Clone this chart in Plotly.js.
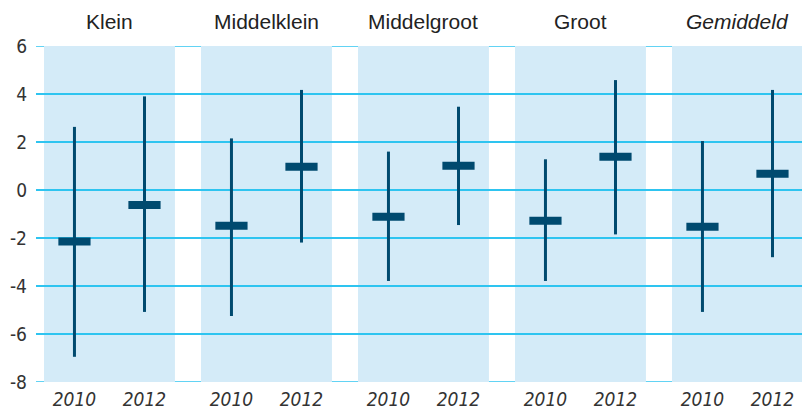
<!DOCTYPE html>
<html>
<head>
<meta charset="utf-8">
<script src="https://cdn.plot.ly/plotly-3.0.1.min.js"></script>
<style>html,body{margin:0;padding:0;background:#fff;}#chart{width:802px;height:414px;}</style>
</head>
<body>
<div id="chart"></div>
<script>
// Data
const groups = ["Klein", "Middelklein", "Middelgroot", "Groot", "Gemiddeld"];
const years = ["2010", "2012"];
const mid2010 = [-2.15, -1.49, -1.11, -1.28, -1.53];
const low2010 = [-6.95, -5.25, -3.79, -3.79, -5.08];
const high2010 = [2.63, 2.15, 1.60, 1.28, 2.04];
const mid2012 = [-0.63, 0.97, 1.01, 1.39, 0.68];
const low2012 = [-5.08, -2.19, -1.46, -1.85, -2.80];
const high2012 = [3.90, 4.17, 3.47, 4.58, 4.17];
const yTicks = [-8, -6, -4, -2, 0, 2, 4, 6];
const yTickLabels = ["-8", "-6", "-4", "-2", "0", "2", "4", "6"];

const OFF = 0.223;   // half distance between the two years in a group
const BAND = 0.417;  // half width of the shaded band
const DARK = "#004a6f";
const GRID = "#2ec4f0";

const mids = [mid2010, mid2012];
const lows = [low2010, low2012];
const highs = [high2010, high2012];

const xs = [], ys = [], eplus = [], eminus = [], tickvals = [], ticktext = [];
groups.forEach((g, gi) => {
  years.forEach((yr, yi) => {
    const x = gi + (yi === 0 ? -OFF : OFF);
    xs.push(x);
    ys.push(mids[yi][gi]);
    eplus.push(highs[yi][gi] - mids[yi][gi]);
    eminus.push(mids[yi][gi] - lows[yi][gi]);
    tickvals.push(x);
    ticktext.push(yr);
  });
});

const trace = {
  type: "scatter",
  mode: "markers",
  x: xs,
  y: ys,
  marker: {symbol: "line-ew", size: 23, color: DARK, line: {color: DARK, width: 8}},
  error_y: {type: "data", symmetric: false, array: eplus, arrayminus: eminus,
            color: DARK, thickness: 3, width: 0},
  hoverinfo: "none",
  cliponaxis: false
};

const shapes = groups.map((g, gi) => ({
  type: "rect", layer: "below", xref: "x", yref: "y",
  x0: gi - BAND, x1: gi + BAND, y0: -8, y1: 6,
  fillcolor: "#d4ebf8", line: {width: 0}
}));
// edge grid lines at the ends of the value axis
[yTicks[0], yTicks[yTicks.length - 1]].forEach(v => shapes.push({
  type: "line", layer: "between", xref: "paper", yref: "y",
  x0: 0, x1: 1, y0: v, y1: v, line: {color: GRID, width: 1.6}
}));

const annotations = groups.map((g, gi) => ({
  xref: "x", yref: "paper", x: gi, y: 1, yshift: 25, yanchor: "middle",
  text: g, showarrow: false,
  font: {family: "Liberation Sans, Arial, sans-serif", size: 21, color: "#222",
         style: gi === groups.length - 1 ? "italic" : "normal"}
}));

const layout = {
  width: 802, height: 414,
  margin: {l: 36, r: 0, t: 46, b: 32, pad: 0},
  paper_bgcolor: "#fff", plot_bgcolor: "rgba(0,0,0,0)",
  showlegend: false,
  xaxis: {
    range: [-0.468, 4.411], showgrid: false, zeroline: false, showline: false,
    tickmode: "array", tickvals: tickvals, ticktext: ticktext, ticks: "",
    ticklabelstandoff: 4,
    tickfont: {family: "Liberation Sans Narrow, DejaVu Sans Condensed, sans-serif", size: 19, color: "#333", style: "italic"}
  },
  yaxis: {
    range: [-8, 6], tickmode: "array", tickvals: yTicks, ticktext: yTickLabels, ticks: "",
    showgrid: true, gridcolor: GRID, gridwidth: 1.6, zeroline: false, showline: false,
    ticklabelstandoff: 8,
    tickfont: {family: "Liberation Sans Narrow, DejaVu Sans Condensed, sans-serif", size: 19, color: "#333"}
  },
  shapes: shapes,
  annotations: annotations
};

Plotly.newPlot("chart", [trace], layout, {displayModeBar: false, staticPlot: true});
</script>
</body>
</html>
